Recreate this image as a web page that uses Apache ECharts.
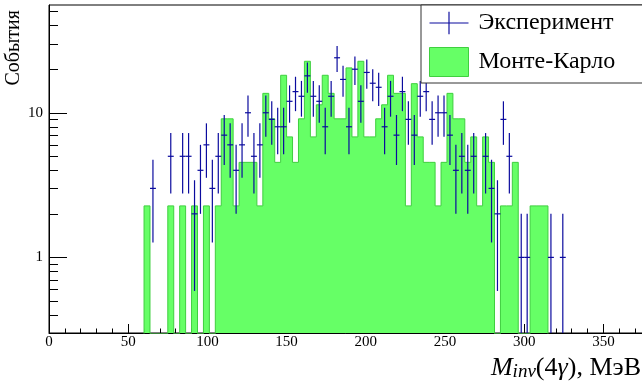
<!DOCTYPE html>
<html>
<head>
<meta charset="utf-8">
<script src="https://cdn.jsdelivr.net/npm/echarts@6/dist/echarts.min.js"></script>
<style>
  html, body { margin: 0; background: #fff; }
  #chart { width: 642px; height: 385px; }
</style>
</head>
<body>
<div id="chart"></div>
<script>
// histogram binning: 100 bins over 0..375 MeV
const BIN_WIDTH = 3.75;
const X_RANGE = [0, 375];
const Y_RANGE = [0.3, 55.6];

// Monte-Carlo histogram, bins 16..83
const mcFirstBin = 16;
const mcValues = [
  2.27, 0, 0, 0, 2.27, 0, 2.27, 0, 2.27, 0,
  2.27, 0, 2.27, 9.08, 9.08, 2.27, 4.54, 4.54, 4.54, 2.27,
  13.62, 9.08, 4.54, 18.16, 6.81, 4.54, 9.08, 22.7, 6.81, 11.35,
  18.16, 13.62, 9.08, 9.08, 20.43, 6.81, 22.7, 6.81, 6.81, 9.08,
  11.35, 18.16, 13.62, 13.62, 2.27, 15.89, 6.81, 4.54, 4.54, 2.27,
  4.54, 13.62, 9.08, 9.08, 4.54, 6.81, 2.27, 6.81, 4.54, 0,
  2.27, 2.27, 4.54, 0, 0, 2.27, 2.27, 2.27
];

// experiment counts, bins 17..86
const expFirstBin = 17;
const expCounts = [
  3, 0, 0, 5, 0, 5, 5, 2, 4, 6,
  3, 5, 7, 6, 4, 6, 10, 5, 6, 10,
  9, 8, 8, 12, 14, 13, 18, 13, 12, 8,
  13, 24, 17, 8, 20, 12, 19, 16, 15, 8,
  13, 7, 14, 9, 7, 13, 14, 9, 10, 10,
  7, 4, 5, 4, 5, 0, 5, 3, 2, 9,
  5, 0, 1, 1, 0, 0, 0, 1, 0, 1
];

const xMajorTicks = [0, 50, 100, 150, 200, 250, 300, 350];
const xMinorTicks = [10, 20, 30, 40, 60, 70, 80, 90, 110, 120, 130, 140, 160, 170, 180, 190,
  210, 220, 230, 240, 260, 270, 280, 290, 310, 320, 330, 340, 360, 370];
const yMajorTicks = [1, 10];
const yMinorTicks = [0.3, 0.4, 0.5, 0.6, 0.7, 0.8, 0.9, 2, 3, 4, 5, 6, 7, 8, 9, 20, 30, 40, 50];

const BLUE = '#0b0b9e';
const GREEN_FILL = '#66ff66';
const GREEN_LINE = '#3fcf3f';
const FONT = 'Liberation Serif';

// step outline of the MC histogram; empty bins go below the axis and get clipped
const FLOOR = 0.1;
const mcLine = [[mcFirstBin * BIN_WIDTH, FLOOR]];
mcValues.forEach((v, j) => {
  const lo = (mcFirstBin + j) * BIN_WIDTH;
  const y = v > 0 ? v : FLOOR;
  mcLine.push([lo, y], [lo + BIN_WIDTH, y]);
});
mcLine.push([(mcFirstBin + mcValues.length) * BIN_WIDTH, FLOOR]);

const expData = expCounts
  .map((n, j) => [(expFirstBin + j + 0.5) * BIN_WIDTH, n])
  .filter(d => d[1] > 0);

const chart = echarts.init(document.getElementById('chart'), null, { renderer: 'canvas' });

const logAxis = (ticks, len, withLabels) => ({
  type: 'log',
  logBase: 10,
  min: Y_RANGE[0],
  max: Y_RANGE[1],
  position: 'left',
  offset: 0,
  axisLine: { show: withLabels, lineStyle: { color: '#000', width: 1 } },
  axisTick: { show: true, inside: true, length: len, customValues: ticks, lineStyle: { color: '#000', width: 1 } },
  axisLabel: withLabels
    ? { show: true, customValues: yMajorTicks, margin: 6, fontFamily: FONT, fontSize: 15, color: '#000' }
    : { show: false },
  splitLine: { show: false }
});

const linAxis = (ticks, len, withLabels) => ({
  type: 'value',
  min: X_RANGE[0],
  max: X_RANGE[1],
  position: 'bottom',
  offset: 0,
  axisLine: { show: withLabels, onZero: false, lineStyle: { color: '#000', width: 1 } },
  axisTick: { show: true, inside: true, length: len, customValues: ticks, lineStyle: { color: '#000', width: 1 } },
  axisLabel: withLabels
    ? { show: true, customValues: xMajorTicks, margin: 2, fontFamily: FONT, fontSize: 15, color: '#000' }
    : { show: false },
  splitLine: { show: false }
});

const xMain = linAxis(xMajorTicks, 9, true);
xMain.name = '{mi|M}{sub|inv}{rm|(4}{mi|γ}{rm|), МэВ}';
xMain.nameLocation = 'end';
xMain.nameGap = -2;
xMain.nameTextStyle = {
  align: 'right',
  verticalAlign: 'top',
  padding: [18, 0, 0, 0],
  rich: {
    mi: { fontFamily: FONT, fontSize: 26, fontStyle: 'italic', color: '#000', lineHeight: 30, verticalAlign: 'bottom' },
    sub: { fontFamily: FONT, fontSize: 19, fontStyle: 'italic', color: '#000', lineHeight: 15, verticalAlign: 'bottom' },
    rm: { fontFamily: FONT, fontSize: 26, color: '#000', lineHeight: 30, verticalAlign: 'bottom' }
  }
};

const yMain = logAxis(yMajorTicks, 18, true);
yMain.name = 'События';
yMain.nameLocation = 'end';
yMain.nameGap = -5;
yMain.nameRotate = 90;
yMain.nameTextStyle = {
  fontFamily: FONT, fontSize: 20, color: '#000',
  align: 'right', verticalAlign: 'bottom', padding: [0, 0, 25, 0]
};

chart.setOption({
  animation: false,
  backgroundColor: '#fff',
  grid: {
    left: 49, width: 594, top: 5, bottom: 52,
    outerBoundsMode: 'none',
    containLabel: false,
    show: true, borderColor: '#000', borderWidth: 1, backgroundColor: 'transparent'
  },
  xAxis: [xMain, linAxis(xMinorTicks, 4.5, false)],
  yAxis: [yMain, logAxis(yMinorTicks, 9, false)],
  legend: {
    left: 421,
    top: 5,
    orient: 'vertical',
    itemWidth: 39,
    itemHeight: 29,
    itemGap: 12,
    padding: [6, 60, 6, 8],
    borderColor: '#333',
    borderWidth: 1,
    borderRadius: 0,
    backgroundColor: '#fff',
    selectedMode: false,
    textStyle: { fontFamily: FONT, fontSize: 24, color: '#000', padding: [0, 0, 0, 5] },
    data: [
      { name: 'Эксперимент', icon: 'path://M0,11H40V12.2H0Z M19.4,0H20.6V23.2H19.4Z', itemStyle: { color: BLUE } },
      { name: 'Монте-Карло', icon: 'rect', itemStyle: { color: GREEN_FILL, borderColor: GREEN_LINE, borderWidth: 1 } }
    ]
  },
  series: [
    {
      name: 'Монте-Карло',
      type: 'line',
      data: mcLine,
      xAxisIndex: 0,
      yAxisIndex: 0,
      symbol: 'none',
      clip: true,
      itemStyle: { color: GREEN_FILL },
      lineStyle: { color: GREEN_LINE, width: 1 },
      areaStyle: { color: GREEN_FILL, opacity: 1, origin: 'start' },
      z: 2
    },
    {
      name: 'Эксперимент',
      type: 'custom',
      data: expData,
      xAxisIndex: 0,
      yAxisIndex: 0,
      clip: true,
      itemStyle: { color: BLUE },
      z: 3,
      renderItem: (params, api) => {
        const x = api.value(0);
        const n = api.value(1);
        const err = Math.sqrt(n);
        const lo = Math.max(n - err, Y_RANGE[0]);
        const pL = api.coord([x - BIN_WIDTH / 2, n]);
        const pR = api.coord([x + BIN_WIDTH / 2, n]);
        const pT = api.coord([x, n + err]);
        const pB = api.coord([x, lo]);
        const st = { stroke: BLUE, lineWidth: 1.2 };
        return {
          type: 'group',
          children: [
            { type: 'line', shape: { x1: pL[0], y1: pL[1], x2: pR[0], y2: pR[1] }, style: st },
            { type: 'line', shape: { x1: pT[0], y1: pT[1], x2: pB[0], y2: pB[1] }, style: st }
          ]
        };
      }
    }
  ]
});
</script>
</body>
</html>
